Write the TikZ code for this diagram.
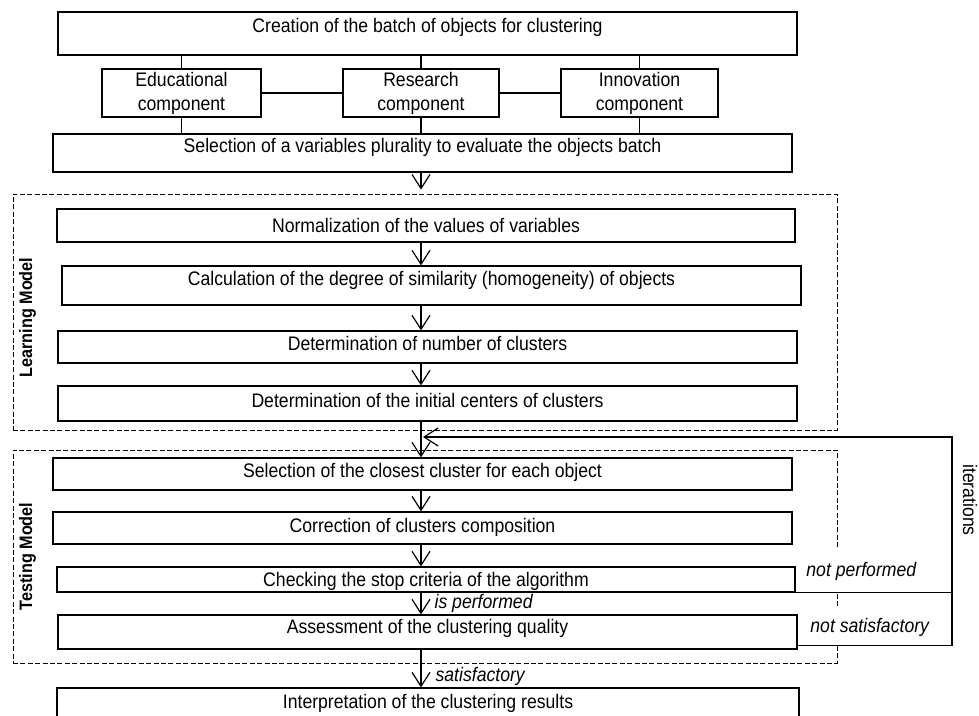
\documentclass[tikz,border=0pt]{standalone}
\usepackage{fontspec}
\setmainfont{Liberation Sans}[FakeStretch=0.9]
\usetikzlibrary{arrows.meta, positioning}
\tikzset{
  box_font/.style = {font=\fontsize{9.8}{12}\selectfont},
  branch_font/.style = {font=\fontsize{9.8}{12}\selectfont\itshape},
  model_font/.style = {font=\fontsize{9}{10}\selectfont\bfseries}
}
\tikzset{
  step_box/.style = {box_font, draw, line width=0.6pt, inner sep=0, align=center},
  lift/.style = {text depth=#1},
  model_frame/.style = {draw, dash pattern=on 2.5pt off 1.2pt, line width=0.4pt, inner sep=0},
  model_title/.style = {model_font, rotate=90},
  branch/.style = {branch_font, inner sep=1pt},
  flow/.style = {line width=0.6pt}
}

\begin{document}
\begin{tikzpicture}[x=0.5pt, y=-0.5pt, >={Straight Barb[length=7pt, width=9pt]}]
        \useasboundingbox (0,0) rectangle (979,716);

        % Models
        \node[model_frame, minimum width=412pt, minimum height=118pt] (learn) at (425,312) {};
        \node[model_frame, minimum width=412pt, minimum height=106.5pt] (test) at (425,556.5) {};
        \node[model_title] at ([xshift=7.5pt, yshift=-2.75pt]learn.west) (learn_t) {Learning Model};
        \node[model_title] at ([xshift=7.5pt]test.west) (test_t) {Testing Model};

        % Batch of objects
        \node[step_box, minimum width=369.5pt, minimum height=21.5pt, lift=8.4pt] (create) at (427.5,33.5) {
            Creation of the batch of objects for clustering};
        \node[step_box, minimum width=79.5pt, minimum height=24pt] (edu) at (181.5,93) {
            Educational\\component};
        \node[step_box, minimum width=78pt, minimum height=24pt] (res) at (421,93) {
            Research\\component};
        \node[step_box, minimum width=78.5pt, minimum height=24pt] (inn) at (639.5,93) {
            Innovation\\component};
        \node[step_box, minimum width=369.5pt, minimum height=19pt, lift=8pt] (sel_vars) at (422.5,153) {
            Selection of a variables plurality to evaluate the objects batch};

        % Learning steps
        \node[step_box, minimum width=369pt, minimum height=16.5pt] (norm) at (426,225.5) {
            Normalization of the values of variables};
        \node[step_box, minimum width=369.5pt, minimum height=19.5pt, lift=7.5pt] (calc) at (431.5,285.5) {
            Calculation of the degree of similarity (homogeneity) of objects};
        \node[step_box, minimum width=369.5pt, minimum height=16pt, lift=4pt] (num) at (427.5,347) {
            Determination of number of clusters};
        \node[step_box, minimum width=369.5pt, minimum height=17.5pt, lift=3.5pt] (init) at (427.5,403.5) {
            Determination of the initial centers of clusters};

        % Testing steps
        \node[step_box, minimum width=369.5pt, minimum height=16pt, lift=4pt] (closest) at (422.5,474) {
            Selection of the closest cluster for each object};
        \node[step_box, minimum width=369.5pt, minimum height=16pt, lift=3pt] (correct) at (422.5,528) {
            Correction of clusters composition};
        \node[step_box, minimum width=369pt, minimum height=12.5pt, lift=0.5pt] (check) at (426,579.5) {
            Checking the stop criteria of the algorithm};
        \node[step_box, minimum width=369.5pt, minimum height=17pt, lift=6pt] (assess) at (427.5,632) {
            Assessment of the clustering quality};
        \node[step_box, minimum width=371pt, minimum height=15pt] (interp) at (428,703) {
            Interpretation of the clustering results};

        % Side labels
        \node[branch, fill=white, minimum height=22pt, anchor=west] at (804,571) (not_perf) {not performed};
        \node[branch, fill=white, minimum height=18pt, anchor=west] at (808,627) (not_sat) {not satisfactory};
        \node[box_font, rotate=-90] at (970,500) (iter) {iterations};
        \coordinate (loop) at (952,437);

        % Arrows and lines
        \draw[flow] (create.south -| edu)--(edu.north);
        \draw[flow] (create.south -| res)--(res.north);
        \draw[flow] (create.south -| inn)--(inn.north);
        \draw[flow] (edu.east)--(res.west);
        \draw[flow] (res.east)--(inn.west);
        \draw[flow] (edu.south)--(sel_vars.north -| edu);
        \draw[flow] (res.south)--(sel_vars.north -| res);
        \draw[flow] (inn.south)--(sel_vars.north -| inn);

        \draw[flow, ->, shorten >=2pt] (sel_vars.south -| res)--(learn.north -| res);
        \draw[flow, ->] (norm.south -| res)--(calc.north -| res);
        \draw[flow, ->] (calc.south -| res)--(num.north -| res);
        \draw[flow, ->] (num.south -| res)--(init.north -| res);
        \draw[flow, ->] (init.south -| res)--(closest.north -| res);
        \draw[flow, ->] (closest.south -| res)--(correct.north -| res);
        \draw[flow, ->] (correct.south -| res)--(check.north -| res);
        \draw[flow, ->] (check.south -| res)--node[branch, right, xshift=5.5pt] {is performed} (assess.north -| res);
        \draw[flow, ->] (assess.south -| res)--node[branch, right, pos=0.72, xshift=6pt] {satisfactory} (interp.north -| res);

        \draw[flow] (check.south east)--(check.south east -| loop);
        \draw[flow, ->, shorten >=1pt] ([yshift=2pt]assess.south east) -| (loop) -- (loop -| res);
    \end{tikzpicture}
\end{document}
